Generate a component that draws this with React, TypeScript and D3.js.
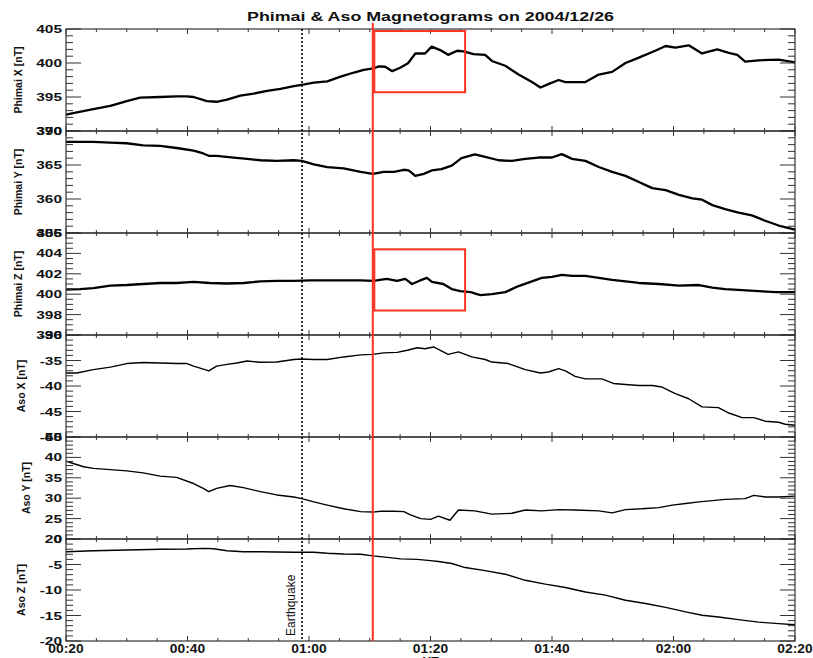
import React from "react";
import * as d3 from "d3";

// time in minutes after 00:00 UT
const timeTicks = [20, 40, 60, 80, 100, 120, 140];
const timeLabels = ["00:20", "00:40", "01:00", "01:20", "01:40", "02:00", "02:20"];
const earthquakeTime = 58.85;
const markerTime = 70.5;
const boxTimes = [70.75, 85.7];

const phimaiX: [number, number][] = [
  [20, 392.4], [21.8, 392.75], [24.5, 393.2], [27.3, 393.7], [30, 394.4], [32.2, 394.9], [35.5, 395.0],
  [38.2, 395.1], [39.9, 395.1], [41, 395.0], [43.2, 394.4], [44.8, 394.3], [46.5, 394.6], [48.7, 395.2],
  [50.9, 395.5], [53.1, 395.9], [55.3, 396.2], [57.5, 396.6], [58.8, 396.8], [60.8, 397.1], [63, 397.3],
  [65.2, 398.0], [67.4, 398.6], [69, 399.0], [70.6, 399.2], [71.5, 399.5], [72.55, 399.45], [73.7, 398.8],
  [75, 399.3], [76.3, 399.96], [77.5, 401.4], [79.1, 401.4], [80.2, 402.4], [81.6, 401.9], [82.9, 401.2],
  [84.4, 401.8], [85.4, 401.7], [87.1, 401.3], [89, 401.2], [90.1, 400.3], [92.3, 399.6], [94.5, 398.3],
  [96.7, 397.2], [98.1, 396.4], [99.4, 396.9], [101.1, 397.5], [102.2, 397.2], [105.5, 397.2], [107.7, 398.3],
  [109.9, 398.7], [112.1, 400.0], [114.3, 400.8], [117, 401.8], [118.7, 402.5], [120.3, 402.25], [122.5, 402.6],
  [124.7, 401.4], [127.2, 402.0], [129.1, 401.5], [130.5, 401.2], [131.8, 400.2], [134, 400.4], [137.3, 400.5],
  [140, 400.1],
];

const phimaiY: [number, number][] = [
  [20, 368.4], [24.5, 368.4], [27.3, 368.3], [30, 368.2], [32.7, 367.9], [35.5, 367.8], [38.2, 367.5],
  [41, 367.1], [42.6, 366.7], [43.5, 366.35], [44.8, 366.35], [47.6, 366.1], [49.8, 365.9], [52, 365.7],
  [54.7, 365.6], [57.5, 365.7], [58.8, 365.6], [60.8, 365.1], [63, 364.7], [65.7, 364.5], [68.5, 364.0],
  [70.5, 363.7], [72.3, 364.0], [74, 364.0], [75.6, 364.3], [76.4, 364.2], [77.5, 363.4], [78.9, 363.7],
  [80.2, 364.2], [81.8, 364.4], [83.5, 364.9], [85.1, 366.0], [87.3, 366.55], [89, 366.2], [91.2, 365.7],
  [93.4, 365.6], [95.6, 365.9], [97.8, 366.1], [100, 366.1], [101.6, 366.6], [103.3, 365.9], [105.5, 365.6],
  [107.7, 364.7], [109.9, 364.0], [112.1, 363.4], [114.3, 362.5], [116.5, 361.6], [118.7, 361.3],
  [120.9, 360.6], [123.1, 360.1], [124.7, 359.9], [126.4, 359.1], [128.5, 358.5], [130.7, 358.0],
  [132.9, 357.6], [135.1, 356.8], [137.3, 356.1], [140, 355.5],
];

const phimaiZ: [number, number][] = [
  [20, 400.46], [22.3, 400.5], [24.5, 400.6], [27.3, 400.85], [30, 400.9], [32.7, 401.0], [35.5, 401.1],
  [38.2, 401.1], [41, 401.2], [43.7, 401.1], [46.5, 401.05], [49.2, 401.1], [52, 401.25], [54.7, 401.3],
  [57.5, 401.3], [60.2, 401.35], [63, 401.35], [65.7, 401.35], [68.5, 401.35], [70.6, 401.3], [72.8, 401.5],
  [74.5, 401.3], [75.85, 401.5], [76.95, 401.0], [78.3, 401.35], [79.4, 401.6], [80.25, 401.2], [82.1, 401.0],
  [83.5, 400.5], [84.9, 400.3], [86.6, 400.2], [88.2, 399.9], [90.1, 400.0], [92.3, 400.2], [94.5, 400.8],
  [96.7, 401.25], [98.3, 401.6], [100, 401.7], [101.6, 401.9], [103.3, 401.8], [105.5, 401.8], [107.7, 401.6],
  [109.9, 401.4], [112.1, 401.25], [114.3, 401.1], [117.6, 401.0], [120.9, 400.85], [124.2, 400.9],
  [126.4, 400.65], [128.5, 400.5], [131.3, 400.4], [134, 400.3], [136.8, 400.2], [140, 400.2],
];

const asoX: [number, number][] = [
  [20, -37.45], [21.8, -37.45], [24.5, -36.8], [27.3, -36.3], [30, -35.6], [32.7, -35.4], [35.5, -35.5],
  [38.2, -35.6], [39.9, -35.6], [41, -36.1], [42.6, -36.7], [43.5, -37.05], [44.8, -36.1], [46.5, -35.75],
  [48.1, -35.5], [49.8, -35.1], [52, -35.35], [54.7, -35.3], [57.5, -34.8], [58.8, -34.7], [60.8, -34.8],
  [63, -34.8], [65.7, -34.3], [68.5, -33.9], [70.5, -33.8], [72.3, -33.5], [74.5, -33.4], [76.2, -33.0],
  [77.8, -32.5], [79.1, -32.7], [80.5, -32.35], [82.9, -33.8], [84.6, -33.3], [86.8, -34.3], [89, -34.8],
  [90.1, -35.3], [92.8, -35.6], [95.6, -36.8], [98.1, -37.45], [99.4, -37.25], [101.1, -36.6], [102.2, -37.05],
  [103.8, -38.1], [105.5, -38.6], [108.2, -38.6], [110.1, -39.5], [112.1, -39.7], [114.3, -39.9],
  [116.5, -39.9], [118.1, -40.2], [120.3, -41.5], [122.5, -42.5], [124.7, -44.1], [127.4, -44.25],
  [129.1, -45.3], [131.3, -46.2], [133.2, -46.2], [135.1, -46.9], [137.3, -47.1], [138.4, -47.5], [140, -47.7],
];

const asoY: [number, number][] = [
  [20, 39.1], [21.2, 38.5], [22.9, 37.7], [24.5, 37.3], [27.3, 37.0], [30, 36.7], [32.7, 36.2], [35.5, 35.4],
  [38.2, 35.1], [41, 33.6], [42.6, 32.4], [43.5, 31.6], [44.8, 32.4], [47, 33.1], [49.2, 32.6], [52, 31.6],
  [54.7, 30.8], [57.5, 30.3], [58.8, 29.9], [60.8, 29.1], [63, 28.3], [65.7, 27.4], [68.5, 26.7], [70.5, 26.6],
  [71.8, 26.8], [74, 26.8], [75.6, 26.7], [76.7, 25.9], [78.4, 25.0], [80, 24.8], [81.3, 25.6], [83.2, 24.6],
  [84.6, 27.1], [87.3, 26.9], [90.1, 26.1], [93.4, 26.3], [95.6, 27.1], [98.3, 26.9], [101.1, 27.2],
  [103.8, 27.1], [107.7, 26.9], [109.9, 26.4], [112.1, 27.2], [114.8, 27.4], [117.6, 27.7], [119.8, 28.3],
  [122, 28.7], [124.2, 29.1], [126.4, 29.4], [128.5, 29.7], [131.8, 29.9], [133.2, 30.7], [135.1, 30.3],
  [137.3, 30.3], [140, 30.5],
];

const asoZ: [number, number][] = [
  [20, -2.5], [22.3, -2.4], [24.5, -2.3], [30, -2.15], [35.5, -2.0], [39.9, -1.97], [42.6, -1.84],
  [44.3, -1.9], [46.5, -2.3], [49.2, -2.5], [52, -2.5], [54.7, -2.55], [57.5, -2.6], [60.8, -2.6],
  [63, -2.8], [65.7, -2.95], [68.5, -3.0], [70.5, -3.3], [72.9, -3.6], [75.1, -3.9], [77.8, -4.0],
  [80, -4.25], [81.3, -4.4], [83.5, -4.8], [85.7, -5.6], [89, -6.2], [92.3, -6.9], [95.6, -8.1],
  [98.9, -8.85], [102.2, -9.5], [105.5, -10.4], [108.8, -11.0], [112.1, -12.0], [115.4, -12.65],
  [118.7, -13.4], [122, -14.3], [124.7, -14.95], [127.4, -15.3], [130.7, -15.8], [134, -16.3],
  [137.3, -16.6], [140, -16.8],
];

const panelTitles = ["Phimai X [nT]", "Phimai Y [nT]", "Phimai Z [nT]", "Aso X [nT]", "Aso Y [nT]", "Aso Z [nT]"];
const panelDomains = [[390, 405], [355, 370], [396, 406], [-50, -30], [20, 45], [-20, 0]];
const panelMajor = [5, 5, 2, 5, 5, 5];
const panelMinor = [1, 1, 0.5, 1, 1, 1];
const panelSeries = [phimaiX, phimaiY, phimaiZ, asoX, asoY, asoZ];
// red boxes: [panel index, low value, high value]
const redBoxes: [number, number, number][] = [[0, 395.7, 404.7], [2, 398.4, 404.4]];

const W = 813, H = 658;
const left = 66, right = 795, top = 29, ph = 102;
const FONT = "'Liberation Sans', Arial, Helvetica, sans-serif";
const INK = "#111";
const RED = "#f8321e";

const x = d3.scaleLinear().domain([20, 140]).range([left, right]);

const yOf = (i: number) =>
  d3.scaleLinear().domain(panelDomains[i]).range([top + (i + 1) * ph, top + i * ph]);

const near = (v: number, step: number) => Math.abs(v / step - Math.round(v / step)) < 1e-6;

const labelWidth = (s: string, size: number, sx: number) =>
  s.split("").reduce((a, c) => a + (c === "-" ? 0.333 : 0.556), 0) * size * sx;

const Panel = ({ i }: { i: number }) => {
  const y = yOf(i);
  const [lo, hi] = panelDomains[i];
  const y0 = top + i * ph, y1 = y0 + ph;
  const yticks = d3.range(lo, hi + 1e-6, panelMinor[i]);
  const majors = yticks.filter((v) => near(v, panelMajor[i]));
  const xticks = d3.range(20, 140.001, 5);
  const line = d3.line<[number, number]>().x((d) => x(d[0])).y((d) => y(d[1]));
  const thick = i < 3;
  const labels = majors.map((v) => String(Math.round(v)));
  const lw = d3.max(labels, (s) => labelWidth(s, 11, 1.4)) || 0;
  const tx = 62 - lw - 18 + 3.5;
  return (
    <g>
      <path d={line(panelSeries[i]) || ""} fill="none" stroke="#000" strokeWidth={thick ? 2.3 : 1.4} strokeLinejoin="round" />
      <rect x={left} y={y0} width={right - left} height={ph} fill="none" stroke="#333" strokeWidth={1.2} />
      {yticks.map((v, k) => {
        const len = near(v, panelMajor[i]) ? 15 : 7;
        return (
          <g key={k} stroke="#333" strokeWidth={1}>
            <line x1={left} x2={left + len} y1={y(v)} y2={y(v)} />
            <line x1={right} x2={right - len} y1={y(v)} y2={y(v)} />
          </g>
        );
      })}
      {xticks.map((t, k) => {
        const len = near(t, 20) ? 5 : 3;
        return (
          <g key={k} stroke="#333" strokeWidth={1}>
            <line x1={x(t)} x2={x(t)} y1={y0} y2={y0 + len} />
            <line x1={x(t)} x2={x(t)} y1={y1} y2={y1 - len} />
          </g>
        );
      })}
      {majors.map((v, k) => (
        <text key={k} transform={`translate(62,${y(v) + 4}) scale(1.4,1)`} textAnchor="end"
          fontFamily={FONT} fontWeight="bold" fontSize={11} fill={INK}>
          {labels[k]}
        </text>
      ))}
      <text transform={`translate(${tx},${(y0 + y1) / 2}) rotate(-90)`} textAnchor="middle"
        fontFamily={FONT} fontWeight="bold" fontSize={10.5} fill={INK}>
        {panelTitles[i]}
      </text>
    </g>
  );
};

export default function App() {
  const bottom = top + 6 * ph;
  return (
    <svg width={W} height={H} style={{ position: "absolute", left: 0, top: 0, background: "#fff" }}>
      <rect width={W} height={H} fill="#fff" />
      <text x={(left + right) / 2} y={21} textAnchor="middle" fontFamily={FONT} fontWeight="bold"
        fontSize={12.5} fill={INK} textLength={367} lengthAdjust="spacingAndGlyphs">
        Phimai &amp; Aso Magnetograms on 2004/12/26
      </text>
      {panelTitles.map((_, i) => <Panel key={i} i={i} />)}
      {timeTicks.map((t, k) => (
        <text key={k} transform={`translate(${x(t)},653) scale(1.15,1)`} textAnchor="middle"
          fontFamily={FONT} fontWeight="bold" fontSize={12} fill={INK}>
          {timeLabels[k]}
        </text>
      ))}
      <text x={(left + right) / 2} y={666} textAnchor="middle" fontFamily={FONT} fontWeight="bold" fontSize={12} fill={INK}>UT</text>
      <line x1={x(earthquakeTime)} x2={x(earthquakeTime)} y1={top} y2={bottom} stroke="#000" strokeWidth={1.6} strokeDasharray="2,2" />
      <text transform={`translate(${x(earthquakeTime) - 7},636) rotate(-90)`} fontFamily={FONT} fontSize={12} fill={INK}>Earthquake</text>
      {redBoxes.map(([p, a, b], k) => {
        const y = yOf(p);
        return (
          <rect key={k} x={x(boxTimes[0])} y={y(b)} width={x(boxTimes[1]) - x(boxTimes[0])} height={y(a) - y(b)}
            fill="none" stroke={RED} strokeWidth={2} />
        );
      })}
      <line x1={x(markerTime)} x2={x(markerTime)} y1={23} y2={bottom} stroke={RED} strokeWidth={2} />
    </svg>
  );
}
